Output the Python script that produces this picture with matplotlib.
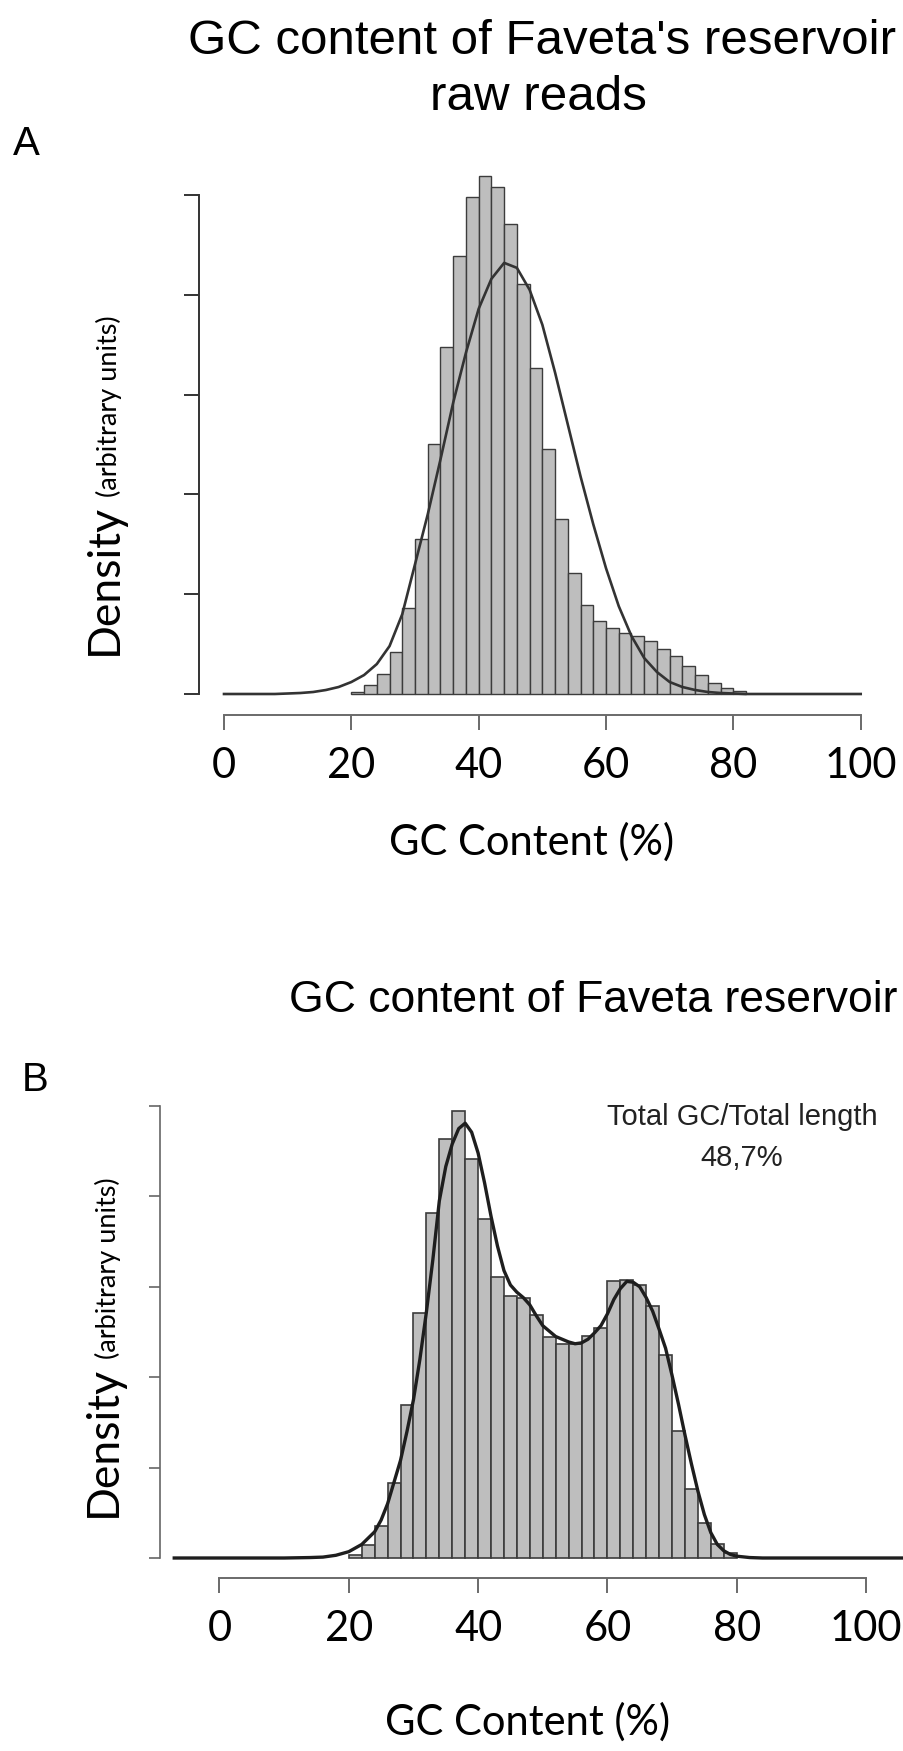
"""GC content histograms (raw reads vs assembly) for the Faveta reservoir."""

import matplotlib

matplotlib.use("Agg")
import matplotlib.pyplot as plt
import numpy as np

W, H, DPI = 904, 1751, 100

# --- panel A : raw reads, histogram + normal fit (arbitrary density units)
A_BIN_LEFT = np.arange(20, 82, 2)
A_BIN_HEIGHT = [
    0.02, 0.09, 0.20, 0.42, 0.86, 1.55, 2.50, 3.48, 4.39, 4.98,
    5.19, 5.08, 4.71, 4.11, 3.27, 2.45, 1.75, 1.21, 0.89, 0.73,
    0.66, 0.61, 0.58, 0.53, 0.45, 0.38, 0.28, 0.19, 0.11, 0.06,
    0.03,
]
A_CURVE_X = np.arange(0, 101, 2)
A_CURVE_Y = [
    0, 0, 0, 0, 0, 0.005, 0.01, 0.02, 0.04, 0.07,
    0.12, 0.19, 0.30, 0.48, 0.80, 1.30, 1.80, 2.35, 2.92, 3.42,
    3.86, 4.16, 4.32, 4.27, 4.05, 3.70, 3.22, 2.70, 2.18, 1.70,
    1.26, 0.88, 0.58, 0.36, 0.22, 0.12, 0.07, 0.04, 0.02, 0.01,
    0.005, 0, 0, 0, 0, 0, 0, 0, 0, 0,
    0,
]

# --- panel B : assembly, histogram + kernel density
B_BIN_LEFT = np.arange(20, 80, 2)
B_BIN_HEIGHT = [
    0.03, 0.14, 0.35, 0.83, 1.69, 2.71, 3.82, 4.63, 4.95, 4.41,
    3.75, 3.11, 2.90, 2.88, 2.69, 2.44, 2.37, 2.37, 2.46, 2.54,
    3.06, 3.07, 3.02, 2.79, 2.25, 1.40, 0.76, 0.39, 0.16, 0.05,
]
B_CURVE_X = [
    -7, 10, 14, 16, 18, 20, 22, 24, 25, 26, 27, 28, 29, 30, 31, 32, 33,
    34, 35, 36, 37, 38, 39, 40, 41, 42, 43, 44, 45, 46, 47, 48, 49, 50,
    52, 54, 55, 56, 57, 58, 59, 60, 61, 62, 63, 64, 65, 66, 67, 68, 69,
    70, 71, 72, 73, 74, 75, 76, 77, 78, 79, 80, 82, 84, 106,
]
B_CURVE_Y = [
    0, 0, 0.005, 0.01, 0.03, 0.07, 0.15, 0.29, 0.42, 0.60, 0.84, 1.08,
    1.40, 1.75, 2.20, 2.72, 3.30, 3.95, 4.33, 4.58, 4.75, 4.81, 4.71,
    4.48, 4.15, 3.78, 3.45, 3.18, 3.02, 2.94, 2.88, 2.80, 2.68, 2.57,
    2.45, 2.39, 2.37, 2.38, 2.42, 2.49, 2.57, 2.70, 2.86, 2.98, 3.06,
    3.05, 3.00, 2.88, 2.73, 2.53, 2.32, 2.02, 1.70, 1.36, 1.04, 0.74,
    0.48, 0.28, 0.15, 0.08, 0.04, 0.02, 0.005, 0, 0,
]

X_TICKS = [0, 20, 40, 60, 80, 100]
Y_TICKS = [0, 1, 2, 3, 4, 5]

TITLE_A = ["GC content of Faveta's reservoir", "raw reads"]
TITLE_B = "GC content of Faveta reservoir"
X_LABEL = "GC Content (%)"
NOTE_B = ["Total GC/Total length", "48,7%"]

SANS = ["Lato", "DejaVu Sans"]
ARIAL = ["Liberation Sans", "DejaVu Sans"]

BAR_FACE = "#bebebe"
BAR_EDGE = "#3c3c3c"


def fig_xy(x_px, y_px):
    return x_px / W, 1 - y_px / H


def add_panel(fig, box, origin, scale):
    """Axes placed by pixel box; origin = pixel of data (0, 0), scale = px per unit."""
    left, top, right, bottom = box
    x0, y0 = origin
    sx, sy = scale
    ax = fig.add_axes([left / W, 1 - bottom / H, (right - left) / W, (bottom - top) / H])
    ax.set_xlim((left - x0) / sx, (right - x0) / sx)
    ax.set_ylim((y0 - bottom) / sy, (y0 - top) / sy)
    ax.patch.set_alpha(0)
    return ax


def style_axes(ax, origin, scale, yaxis_px, xaxis_px, ytick_len, ycolor, ywidth):
    x0, y0 = origin
    sx, sy = scale
    for side in ("top", "right"):
        ax.spines[side].set_visible(False)

    ax.spines["left"].set_position(("data", (yaxis_px - x0) / sx))
    ax.spines["left"].set_bounds(Y_TICKS[0], Y_TICKS[-1])
    ax.spines["left"].set_color(ycolor)
    ax.spines["left"].set_linewidth(ywidth)

    ax.spines["bottom"].set_position(("data", (y0 - xaxis_px) / sy))
    ax.spines["bottom"].set_bounds(X_TICKS[0], X_TICKS[-1])
    ax.spines["bottom"].set_color("#6a6a6a")
    ax.spines["bottom"].set_linewidth(1.4)

    ax.set_yticks(Y_TICKS)
    ax.set_yticklabels([])
    ax.tick_params(axis="y", length=ytick_len, width=ywidth, color=ycolor)

    ax.set_xticks(X_TICKS)
    ax.set_xticklabels([str(t) for t in X_TICKS], fontsize=30, family=SANS)
    ax.tick_params(axis="x", length=10.8, width=1.4, color="#6a6a6a", pad=12)


def density_label(fig, x_px, y_start_px):
    """'Density' large, '(arbitrary units)' small, stacked along a rotated baseline."""
    renderer = fig.canvas.get_renderer()
    big = fig.text(*fig_xy(x_px, y_start_px), "Density", rotation=90,
                   rotation_mode="anchor", ha="left", va="baseline",
                   fontsize=32, family=SANS)
    top_px = H - big.get_window_extent(renderer).y1
    fig.text(*fig_xy(x_px, top_px - 7), "(arbitrary units)", rotation=90,
             rotation_mode="anchor", ha="left", va="baseline", fontsize=19.5, family=SANS)


def main():
    fig = plt.figure(figsize=(W / DPI, H / DPI), dpi=DPI)
    fig.patch.set_facecolor("white")

    # ---------------- panel A
    origin_a, scale_a = (224, 694), (6.367, 99.8)
    ax_a = add_panel(fig, (150, 160, 904, 745), origin_a, scale_a)
    ax_a.bar(A_BIN_LEFT, A_BIN_HEIGHT, width=2, align="edge", color=BAR_FACE,
             edgecolor=BAR_EDGE, linewidth=1.0)
    ax_a.plot(A_CURVE_X, A_CURVE_Y, color="#333333", linewidth=1.9, solid_joinstyle="round")
    style_axes(ax_a, origin_a, scale_a, yaxis_px=199, xaxis_px=715, ytick_len=10.8,
               ycolor="#333333", ywidth=1.4)

    fig.text(*fig_xy(542, 41), TITLE_A[0], ha="center", va="center", fontsize=35.5, family=ARIAL)
    fig.text(*fig_xy(538, 98), TITLE_A[1], ha="center", va="center", fontsize=35.5, family=ARIAL)
    fig.text(*fig_xy(26, 144), "A", ha="center", va="center", fontsize=29, family=ARIAL)
    fig.text(*fig_xy(532, 842), X_LABEL, ha="center", va="center", fontsize=30, family=SANS)
    density_label(fig, 117, 655)

    # ---------------- panel B
    origin_b, scale_b = (219.5, 1558), (6.465, 90.4)
    ax_b = add_panel(fig, (140, 1080, 904, 1600), origin_b, scale_b)
    ax_b.bar(B_BIN_LEFT, B_BIN_HEIGHT, width=2, align="edge", color=BAR_FACE,
             edgecolor=BAR_EDGE, linewidth=1.2)
    ax_b.plot(B_CURVE_X, B_CURVE_Y, color="#1e1e1e", linewidth=2.4, solid_joinstyle="round")
    style_axes(ax_b, origin_b, scale_b, yaxis_px=160, xaxis_px=1578, ytick_len=8,
               ycolor="#666666", ywidth=1.2)

    fig.text(*fig_xy(593, 1000), TITLE_B, ha="center", va="center", fontsize=32, family=ARIAL)
    fig.text(*fig_xy(35, 1080), "B", ha="center", va="center", fontsize=29, family=ARIAL)
    fig.text(*fig_xy(742, 1117), NOTE_B[0], ha="center", va="center", fontsize=21,
             family=ARIAL, color="#222222")
    fig.text(*fig_xy(742, 1158), NOTE_B[1], ha="center", va="center", fontsize=21,
             family=ARIAL, color="#222222")
    fig.text(*fig_xy(528, 1722), X_LABEL, ha="center", va="center", fontsize=30, family=SANS)
    density_label(fig, 116, 1517)

    fig.savefig("out.png", dpi=DPI)
    plt.close(fig)


if __name__ == "__main__":
    main()
